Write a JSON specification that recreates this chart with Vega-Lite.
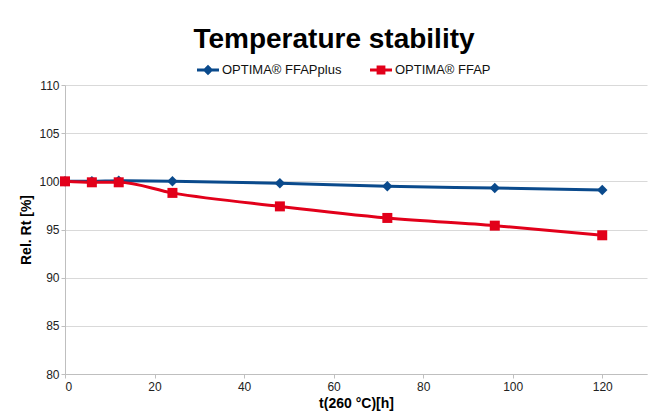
{
  "$schema": "https://vega.github.io/schema/vega-lite/v6.json",
  "width": 582,
  "height": 289,
  "autosize": {"type": "none"},
  "padding": {"left": 65, "top": 85, "right": 25, "bottom": 46},
  "background": "white",
  "config": {
    "font": "Liberation Sans",
    "view": {"stroke": null},
    "axis": {"labelFont": "Liberation Sans", "titleFont": "Liberation Sans", "labelColor": "#222", "titleColor": "#000", "labelFontSize": 12, "titleFontSize": 14, "titleFontWeight": "bold", "domainColor": "#bfbfbf", "tickColor": "#bfbfbf", "gridColor": "#d9d9d9", "tickSize": 4}
  },
  "title": {"text": "Temperature stability", "fontSize": 28, "fontWeight": "bold", "font": "Liberation Sans", "color": "#000", "anchor": "middle", "dx": -22, "offset": 5},
  "data": {"values": [
    {"t": 0, "rt": 100.0, "series": "OPTIMA® FFAPplus"},
    {"t": 6, "rt": 100.0, "series": "OPTIMA® FFAPplus"},
    {"t": 12, "rt": 100.05, "series": "OPTIMA® FFAPplus"},
    {"t": 24, "rt": 100.0, "series": "OPTIMA® FFAPplus"},
    {"t": 48, "rt": 99.8, "series": "OPTIMA® FFAPplus"},
    {"t": 72, "rt": 99.5, "series": "OPTIMA® FFAPplus"},
    {"t": 96, "rt": 99.3, "series": "OPTIMA® FFAPplus"},
    {"t": 120, "rt": 99.1, "series": "OPTIMA® FFAPplus"},
    {"t": 0, "rt": 100.0, "series": "OPTIMA® FFAP"},
    {"t": 6, "rt": 99.9, "series": "OPTIMA® FFAP"},
    {"t": 12, "rt": 99.9, "series": "OPTIMA® FFAP"},
    {"t": 24, "rt": 98.8, "series": "OPTIMA® FFAP"},
    {"t": 48, "rt": 97.4, "series": "OPTIMA® FFAP"},
    {"t": 72, "rt": 96.2, "series": "OPTIMA® FFAP"},
    {"t": 96, "rt": 95.4, "series": "OPTIMA® FFAP"},
    {"t": 120, "rt": 94.4, "series": "OPTIMA® FFAP"}
  ]},
  "encoding": {
    "x": {"field": "t", "type": "quantitative", "scale": {"domain": [0, 130], "nice": false}, "axis": {"values": [0, 20, 40, 60, 80, 100, 120], "grid": false, "title": "t(260 °C)[h]", "titlePadding": 4, "labelPadding": 3}},
    "y": {"field": "rt", "type": "quantitative", "scale": {"domain": [80, 110], "nice": false, "zero": false}, "axis": {"values": [80, 85, 90, 95, 100, 105, 110], "title": "Rel. Rt [%]", "titlePadding": 5, "domain": true}},
    "color": {"field": "series", "type": "nominal", "scale": {"domain": ["OPTIMA® FFAPplus", "OPTIMA® FFAP"], "range": ["#0a4a8c", "#e2001a"]},
      "legend": {"orient": "none", "legendX": 132, "legendY": -26, "direction": "horizontal", "title": null, "labelFontSize": 13, "labelFont": "Liberation Sans", "labelColor": "#111", "columnPadding": 28, "symbolSize": 484, "symbolStrokeWidth": 0, "symbolOpacity": 1, "labelOffset": 3,
        "encode": {"symbols": {"update": {"shape": {"signal": "indexof(datum.value, 'plus') >= 0 ? 'M-1,-0.13H1V0.13H-1Z M0,-0.48L0.48,0L0,0.48L-0.48,0Z' : 'M-1,-0.13H1V0.13H-1Z M-0.4,-0.4H0.4V0.4H-0.4Z'"}, "fill": {"scale": "color", "field": "value"}, "strokeWidth": {"value": 0}}}}}}
  },
  "layer": [
    {"mark": {"type": "line", "strokeWidth": 3, "interpolate": "monotone"}},
    {"transform": [{"filter": "indexof(datum.series, 'plus') >= 0"}],
     "mark": {"type": "point", "filled": true, "opacity": 1, "shape": "diamond", "size": 110}},
    {"transform": [{"filter": "indexof(datum.series, 'plus') < 0"}],
     "mark": {"type": "point", "filled": true, "opacity": 1, "shape": "square", "size": 100}}
  ]
}
